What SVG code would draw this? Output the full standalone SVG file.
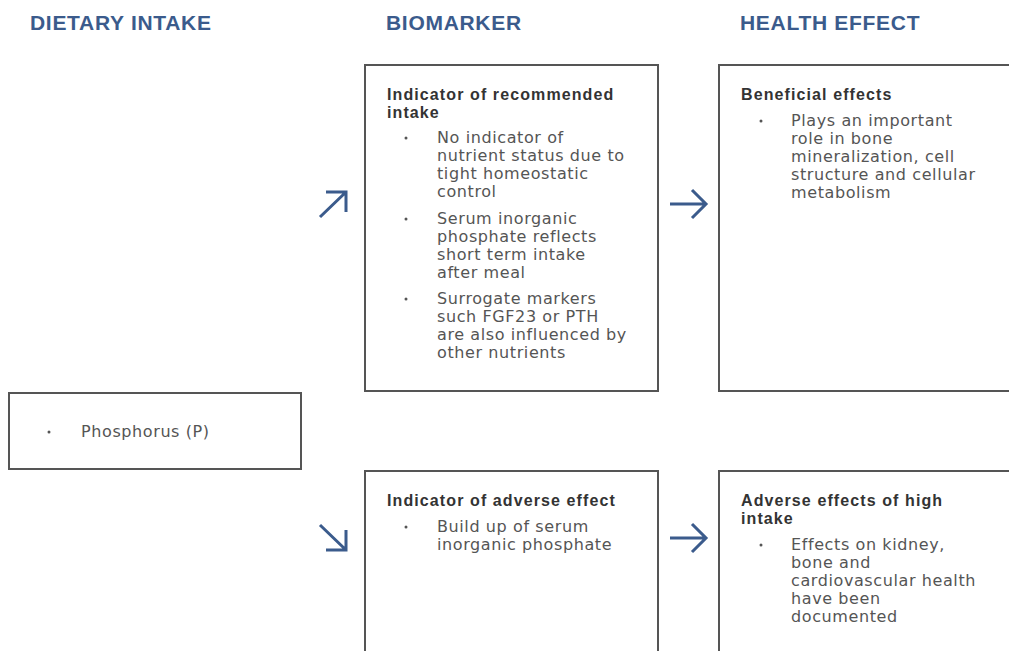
<svg xmlns="http://www.w3.org/2000/svg" width="1009" height="651" viewBox="0 0 1009 651">
<style>
.hdr{font-family:"Liberation Sans",Arial,sans-serif;font-weight:bold;font-size:21px;letter-spacing:0.7px;fill:#3b5b8c}
.box{fill:#fff;stroke:#555;stroke-width:2}
.ttl{font-family:"Liberation Sans",Arial,sans-serif;font-weight:bold;font-size:16px;letter-spacing:1.1px;fill:#333}
.txt{font-family:"DejaVu Sans",Verdana,sans-serif;font-size:16px;letter-spacing:0.6px;fill:#555}
.dot{fill:#555}
.arr{fill:none;stroke:#3b5b8c;stroke-width:3}
</style>
<rect width="1009" height="651" fill="#fff"/>
<text class="hdr" x="30" y="30">DIETARY INTAKE</text>
<text class="hdr" x="386" y="30">BIOMARKER</text>
<text class="hdr" x="740" y="30">HEALTH EFFECT</text>

<g id="intake">
<rect class="box" x="9" y="393" width="292" height="76"/>
<circle class="dot" cx="49" cy="432" r="1.5"/>
<text class="txt" x="81" y="437">Phosphorus (P)</text>
</g>

<g id="bio-rec">
<rect class="box" x="365" y="65" width="293" height="326"/>
<text class="ttl" x="387" y="100">Indicator of recommended</text>
<text class="ttl" x="387" y="118">intake</text>
<circle class="dot" cx="406" cy="138" r="1.5"/>
<text class="txt"><tspan x="437" y="143">No indicator of</tspan><tspan x="437" y="161">nutrient status due to</tspan><tspan x="437" y="179">tight homeostatic</tspan><tspan x="437" y="197">control</tspan></text>
<circle class="dot" cx="406" cy="219" r="1.5"/>
<text class="txt"><tspan x="437" y="224">Serum inorganic</tspan><tspan x="437" y="242">phosphate reflects</tspan><tspan x="437" y="260">short term intake</tspan><tspan x="437" y="278">after meal</tspan></text>
<circle class="dot" cx="406" cy="299" r="1.5"/>
<text class="txt"><tspan x="437" y="304">Surrogate markers</tspan><tspan x="437" y="322">such FGF23 or PTH</tspan><tspan x="437" y="340">are also influenced by</tspan><tspan x="437" y="358">other nutrients</tspan></text>
</g>

<g id="health-ben">
<rect class="box" x="719" y="65" width="300" height="326"/>
<text class="ttl" x="741" y="100">Beneficial effects</text>
<circle class="dot" cx="761" cy="121" r="1.5"/>
<text class="txt"><tspan x="791" y="126">Plays an important</tspan><tspan x="791" y="144">role in bone</tspan><tspan x="791" y="162">mineralization, cell</tspan><tspan x="791" y="180">structure and cellular</tspan><tspan x="791" y="198">metabolism</tspan></text>
</g>

<g id="bio-adv">
<rect class="box" x="365" y="471" width="293" height="200"/>
<text class="ttl" x="387" y="506">Indicator of adverse effect</text>
<circle class="dot" cx="406" cy="527" r="1.5"/>
<text class="txt"><tspan x="437" y="532">Build up of serum</tspan><tspan x="437" y="550">inorganic phosphate</tspan></text>
</g>

<g id="health-adv">
<rect class="box" x="719" y="471" width="300" height="200"/>
<text class="ttl" x="741" y="506">Adverse effects of high</text>
<text class="ttl" x="741" y="524">intake</text>
<circle class="dot" cx="761" cy="545" r="1.5"/>
<text class="txt"><tspan x="791" y="550">Effects on kidney,</tspan><tspan x="791" y="568">bone and</tspan><tspan x="791" y="586">cardiovascular health</tspan><tspan x="791" y="604">have been</tspan><tspan x="791" y="622">documented</tspan></text>
</g>

<g id="connectors">
<path class="arr" d="M320 217 L346 192 M326 192 H346 V212"/>
<path class="arr" d="M320 525 L346 550 M326 550 H346 V530"/>
<path class="arr" d="M670 204 H706 M692 190 L706 204 L692 218"/>
<path class="arr" d="M670 538 H706 M692 524 L706 538 L692 552"/>
</g>
</svg>
